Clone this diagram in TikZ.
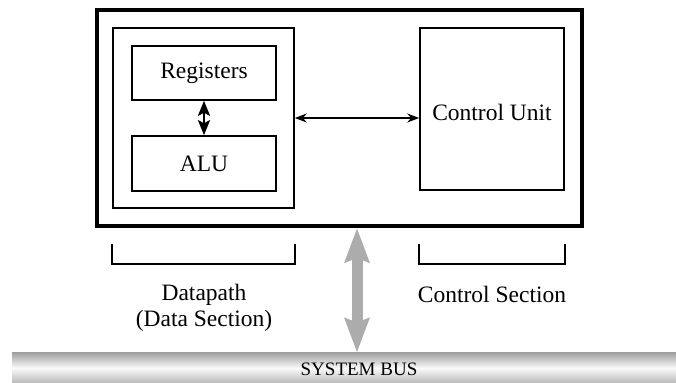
\documentclass[tikz,border=0pt]{standalone}
\usepackage{fontspec}
\setmainfont{Liberation Serif}
\usetikzlibrary{arrows.meta,positioning}

\begin{document}
\begin{tikzpicture}[x=0.5pt, y=-0.5pt,
  font=\fontsize{11.75}{13}\selectfont,
  b/.style={draw, line width=0.8pt, inner sep=0pt, align=center},
  unit/.style={b, minimum width=72pt, minimum height=27pt},
  arr/.style={{Stealth[length=6pt,width=4.5pt]}-{Stealth[length=6pt,width=4.5pt]}, line width=0.7pt},
  darr/.style={{Stealth[length=7.5pt,width=6pt,inset=1.5pt]}-{Stealth[length=7.5pt,width=6pt,inset=1.5pt]}, line width=1.2pt},
  garr/.style={{Stealth[length=17pt,width=12pt,inset=2pt]}-{Stealth[length=17pt,width=12pt,inset=2pt]}, line width=5.5pt, draw=gray!65},
  brk/.style={line width=0.8pt},
  busbar/.style={minimum width=332pt, minimum height=15pt, inner sep=0pt,
    top color=gray!72, bottom color=gray!55, middle color=gray!4}]
  \useasboundingbox (0,0) rectangle (676,383);
  % processor with its two sections
  \node[b, line width=2pt, minimum width=242.5pt, minimum height=107.75pt] (cpu) at (339.5,118.25) {};
  \node[b, minimum width=90.5pt, minimum height=90pt] (dp) at (203.5,118) {};
  \node[unit] (reg) at (204,73) {Registers};
  \node[unit, minimum height=27.5pt] (alu) at (204,163.5) {ALU};
  \node[b, minimum width=72pt, minimum height=81pt, text height=12pt] (cu) at (492,109) {Control Unit};
  \draw[darr] (reg) -- (alu);
  \draw[arr] (dp.east) -- (dp.east -| cu.west);
  % brackets and section names
  \draw[brk] ([yshift=-17.5pt]dp.south west) -- ++(0,-10pt) -| ([yshift=-17.5pt]dp.south east);
  \draw[brk] ([yshift=-26.5pt]cu.south west) -- ++(0,-10pt) -| ([yshift=-26.5pt]cu.south east);
  \node[align=center] (dplbl) at (204,308) {Datapath\\(Data Section)};
  \node (cslbl) at (492,294.5) {Control Section};
  % system bus
  \node[busbar] (bus) at (344,368) {};
  \node[font=\fontsize{9.5}{11}\selectfont] (buslbl) at (359,369) {SYSTEM BUS};
  \draw[garr] ([xshift=8.75pt]cpu.south) -- ([xshift=8.75pt]cpu.south |- bus.north);
\end{tikzpicture}
\end{document}
